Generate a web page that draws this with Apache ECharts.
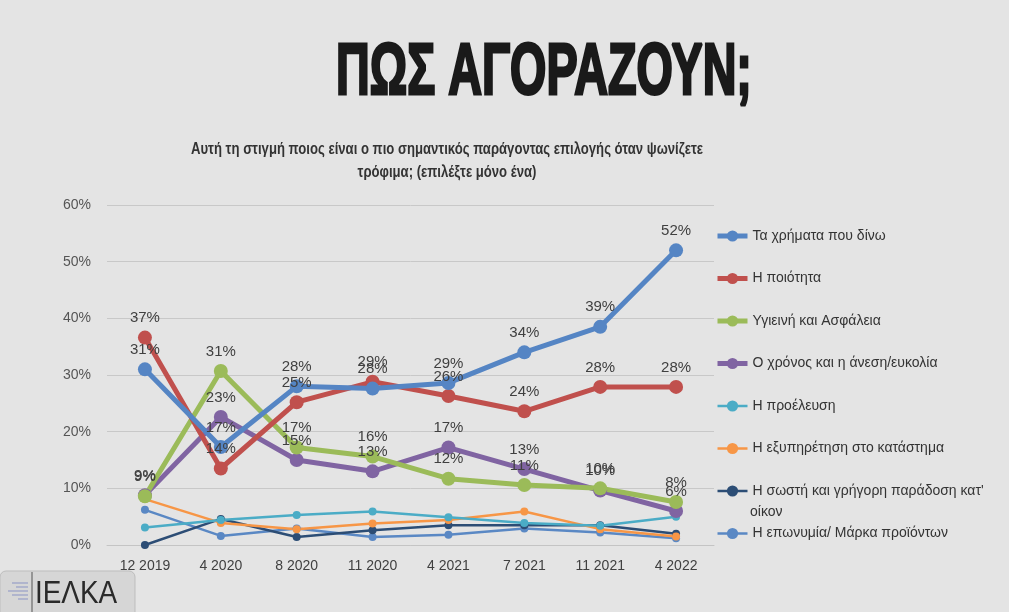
<!DOCTYPE html>
<html>
<head>
<meta charset="utf-8">
<script src="https://cdn.jsdelivr.net/npm/echarts@6/dist/echarts.min.js"></script>
<style>
html,body{margin:0;padding:0;background:#e4e4e4;}
#chart{width:1009px;height:612px;}
</style>
</head>
<body>
<div id="chart"></div>
<script>
var categories = ['12 2019', '4 2020', '8 2020', '11 2020', '4 2021', '7 2021', '11 2021', '4 2022'];
var yTicks = [0, 10, 20, 30, 40, 50, 60];

var seriesNames = [
  'Τα χρήματα που δίνω',
  'Η ποιότητα',
  'Υγιεινή και Ασφάλεια',
  'Ο χρόνος και η άνεση/ευκολία',
  'Η προέλευση',
  'Η εξυπηρέτηση στο κατάστημα',
  'Η σωστή και γρήγορη παράδοση κατ\'',
  'Η επωνυμία/ Μάρκα προϊόντων'
];

var money    = [31, 17.3, 28, 27.6, 28.6, 34, 38.5, 52];
var quality  = [36.6, 13.5, 25.2, 28.8, 26.3, 23.6, 27.9, 27.9];
var hygiene  = [8.6, 30.7, 17.2, 15.6, 11.7, 10.6, 10, 7.6];
var time     = [8.8, 22.6, 15, 13, 17.2, 13.4, 9.6, 6];
var origin   = [3.1, 4.4, 5.3, 5.9, 4.9, 3.9, 3.4, 5];
var service  = [8.1, 3.9, 2.8, 3.8, 4.4, 5.9, 2.8, 1.5];
var delivery = [0, 4.6, 1.4, 2.6, 3.5, 3.5, 3.5, 2];
var brand    = [6.2, 1.6, 2.9, 1.4, 1.8, 2.9, 2.2, 1.2];

var colors = ['#5585C4', '#C0504D', '#9BBB59', '#8064A2', '#4BACC6', '#F79646', '#2C4D75', '#5A88C4'];

var chart = echarts.init(document.getElementById('chart'));

function major(name, data, color) {
  return {
    name: name, type: 'line', data: data,
    lineStyle: {width: 5, color: color},
    itemStyle: {color: color},
    symbol: 'circle', symbolSize: 14,
    label: {
      show: true, position: 'top', distance: 5,
      fontSize: 15, color: '#404040', fontFamily: 'Liberation Sans',
      formatter: function (p) { return Math.round(p.value) + '%'; }
    },
    z: 3
  };
}
function minor(name, data, color) {
  return {
    name: name, type: 'line', data: data,
    lineStyle: {width: 2.5, color: color},
    itemStyle: {color: color},
    symbol: 'circle', symbolSize: 8,
    label: {show: false},
    z: 2
  };
}

var legendData = seriesNames.map(function (n, i) {
  return {name: n, lineStyle: {width: i < 4 ? 5 : 2.5}};
});

var option = {
  backgroundColor: '#e4e4e4',
  animation: false,
  grid: {left: 107, right: 295, top: 205, bottom: 67},
  legend: {
    orient: 'vertical', left: 710, top: 224,
    itemWidth: 30, itemHeight: 14, itemGap: 28.5,
    textStyle: {fontSize: 14, color: '#333', fontFamily: 'Liberation Sans'},
    data: legendData
  },
  xAxis: {
    type: 'category', data: categories, boundaryGap: true,
    axisLine: {lineStyle: {color: '#c4c4c4'}},
    axisTick: {show: false},
    axisLabel: {fontSize: 14, color: '#404040', fontFamily: 'Liberation Sans', margin: 14}
  },
  yAxis: {
    type: 'value', min: 0, max: 60, interval: 10,
    axisLine: {show: false}, axisTick: {show: false},
    splitLine: {lineStyle: {color: '#c8c8c8'}},
    axisLabel: {fontSize: 14, color: '#555', fontFamily: 'Liberation Sans', margin: 16,
      formatter: function (v) { return yTicks.indexOf(v) >= 0 ? v + '%' : ''; }}
  },
  series: [
    minor(seriesNames[7], brand, colors[7]),
    minor(seriesNames[6], delivery, colors[6]),
    minor(seriesNames[5], service, colors[5]),
    minor(seriesNames[4], origin, colors[4]),
    major(seriesNames[3], time, colors[3]),
    major(seriesNames[2], hygiene, colors[2]),
    major(seriesNames[1], quality, colors[1]),
    major(seriesNames[0], money, colors[0])
  ],
  graphic: [
    {type: 'text', x: 544, y: 74, scaleX: 0.64, scaleY: 1,
      style: {text: 'ΠΩΣ ΑΓΟΡΑΖΟΥΝ;', align: 'center', verticalAlign: 'middle',
        font: 'bold 73px "Liberation Sans"', fill: '#1a1a1a', stroke: '#1a1a1a', lineWidth: 3}},
    {type: 'text', x: 447, y: 150, scaleX: 0.82, scaleY: 1,
      style: {text: 'Αυτή τη στιγμή ποιος είναι ο πιο σημαντικός παράγοντας επιλογής όταν ψωνίζετε',
        align: 'center', verticalAlign: 'middle', font: 'bold 16px "Liberation Sans"', fill: '#333'}},
    {type: 'text', x: 447, y: 173, scaleX: 0.82, scaleY: 1,
      style: {text: 'τρόφιμα; (επιλέξτε μόνο ένα)',
        align: 'center', verticalAlign: 'middle', font: 'bold 16px "Liberation Sans"', fill: '#333'}},
    {type: 'text', left: 750, top: 505,
      style: {text: 'οίκον', font: '14px "Liberation Sans"', fill: '#333'}},
    {type: 'rect', shape: {x: 0, y: 571, width: 135, height: 45, r: [6, 6, 0, 0]},
      style: {fill: '#d6d6d6', stroke: '#bdbdbd', lineWidth: 1}},
    {type: 'line', shape: {x1: 32, y1: 572, x2: 32, y2: 612}, style: {stroke: '#555', lineWidth: 1}},
    {type: 'text', x: 35, y: 594, scaleX: 0.9, scaleY: 1,
      style: {text: 'ΙΕΛΚΑ', verticalAlign: 'middle', font: '31px "Liberation Sans"', fill: '#2a2a2a'}},
    {type: 'line', shape: {x1: 12, y1: 583, x2: 28, y2: 583}, style: {stroke: '#8a93c4', lineWidth: 1}},
    {type: 'line', shape: {x1: 16, y1: 587, x2: 28, y2: 587}, style: {stroke: '#8a93c4', lineWidth: 1}},
    {type: 'line', shape: {x1: 8, y1: 591, x2: 28, y2: 591}, style: {stroke: '#8a93c4', lineWidth: 1}},
    {type: 'line', shape: {x1: 12, y1: 595, x2: 28, y2: 595}, style: {stroke: '#8a93c4', lineWidth: 1}},
    {type: 'line', shape: {x1: 18, y1: 599, x2: 28, y2: 599}, style: {stroke: '#8a93c4', lineWidth: 1}}
  ]
};
chart.setOption(option);
</script>
</body>
</html>
